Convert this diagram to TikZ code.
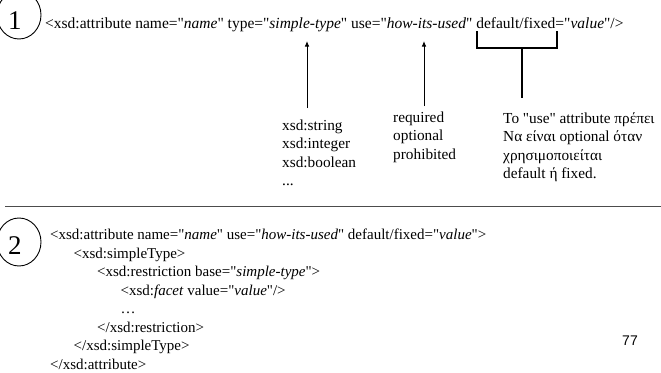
\documentclass[tikz,border=0pt]{standalone}
\usepackage{fontspec}
\setmainfont{Liberation Serif}[Ligatures=TeXOff]
\newfontfamily\pagenofont{Liberation Sans}
\usetikzlibrary{arrows.meta,shapes.geometric}
\begin{document}
\begin{tikzpicture}[x=1pt,y=-1pt,
  code/.style={inner sep=0, anchor=base west, font=\fontsize{15.5}{18.6}\selectfont},
  codeb/.style={inner sep=0, anchor=base west, font=\fontsize{15}{18}\selectfont},
  ann/.style={inner sep=0, anchor=base west, font=\fontsize{15.3}{18.5}\selectfont},
  arr/.style={line width=0.9pt, -{Latex[length=5.5pt,width=4.5pt]}},
  brk/.style={line width=1.1pt},
  badge/.style={draw, ellipse, line width=0.9pt, minimum width=44pt, minimum height=48pt, inner sep=0},
  digit/.style={inner sep=0, font=\fontsize{27}{30}\selectfont}
]
\useasboundingbox (0,0) rectangle (661,372);
\clip (0,0) rectangle (661,372);

% ---- part 1: attribute declared with a type attribute ----
\node[badge] (b1) at (19,15) {};
\node[digit] (d1) at (15,21) {1};
\node[code] (decl) at (45,28)
  {<xsd:attribute name="\textit{name}" type="\textit{simple-type}" use="\textit{how-its-used}" default/fixed="\textit{value}"/>};

% arrows pointing at the type and use values
\coordinate (typeTail) at (307,108);
\coordinate (typeHead) at (307,41);
\draw[arr] (typeTail) -- (typeHead);
\coordinate (useTail) at (424,106);
\coordinate (useHead) at (424,41);
\draw[arr] (useTail) -- (useHead);

% bracket under default/fixed
\coordinate (dfL) at (477,31);
\coordinate (dfR) at (557,31);
\coordinate (dfMid) at (522,48);
\coordinate (dfTail) at (522,98);
\draw[brk] (dfL) -- (477,48) -- (557,48) -- (dfR);
\draw[brk] (dfMid) -- (dfTail);

% possible types
\node[ann] (t1) at (282,130)   {xsd:string};
\node[ann] (t2) at (282,148.5) {xsd:integer};
\node[ann] (t3) at (282,167)   {xsd:boolean};
\node[ann] (t4) at (282,185.5) {...};

% possible use values
\node[ann] (u1) at (393,122)   {required};
\node[ann] (u2) at (393,140.5) {optional};
\node[ann] (u3) at (393,159)   {prohibited};

% note on default / fixed
\node[ann] (g1) at (503,123)   {Το "use" attribute πρέπει};
\node[ann] (g2) at (503,141.5) {Να είναι optional όταν};
\node[ann] (g3) at (503,160)   {χρησιμοποιείται};
\node[ann] (g4) at (503,178.5) {default ή fixed.};

% separator
\coordinate (sepL) at (5,206.5);
\coordinate (sepR) at (661,206.5);
\draw[line width=1.2pt, black!70] (sepL) -- (sepR);

% ---- part 2: attribute with an anonymous simple type ----
\node[badge] (b2) at (19,242) {};
\node[digit] (d2) at (15,246) {2};
\node[codeb] (l1) at (50,239.5)   {<xsd:attribute name="\textit{name}" use="\textit{how-its-used}" default/fixed="\textit{value}">};
\node[codeb] (l2) at (73.5,258)   {<xsd:simpleType>};
\node[codeb] (l3) at (97,276.5)   {<xsd:restriction base="\textit{simple-type}">};
\node[codeb] (l4) at (120.5,295)  {<xsd:\textit{facet} value="\textit{value}"/>};
\node[codeb] (l5) at (120.5,313.5){…};
\node[codeb] (l6) at (97,332)     {</xsd:restriction>};
\node[codeb] (l7) at (73.5,350.5) {</xsd:simpleType>};
\node[codeb] (l8) at (50,369)     {</xsd:attribute>};

% page number
\node[inner sep=0, font=\pagenofont\fontsize{14}{16}\selectfont] (pg) at (630,341) {77};
\end{tikzpicture}
\end{document}
